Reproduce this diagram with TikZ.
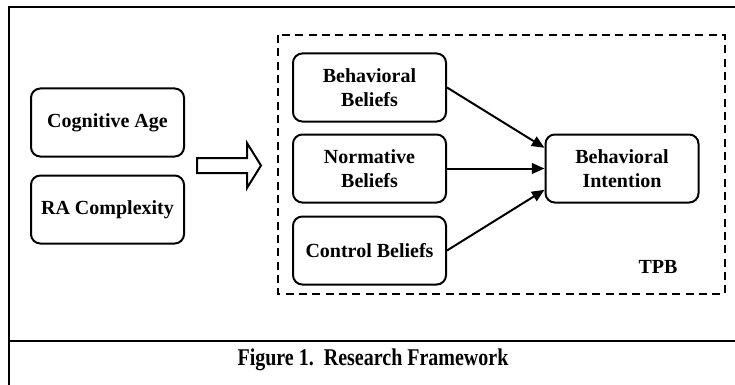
\documentclass[tikz,border=0pt]{standalone}
\usepackage{fontspec}
\usepackage{graphicx}
\setmainfont{Liberation Serif}
\usetikzlibrary{arrows.meta}
\begin{document}
\begin{tikzpicture}[x=0.75pt,y=-0.75pt,
  box/.style={draw, line width=1.5pt, rounded corners=7pt, align=center,
    font=\fontsize{15}{18.5}\selectfont\bfseries,
    minimum width=114.75pt, minimum height=51pt, inner sep=0pt},
  link/.style={line width=1.5pt, -{Triangle[length=9.5pt,width=8pt]}},
  frameline/.style={line width=2.2pt},
  lbl/.style={font=\fontsize{15}{18}\selectfont\bfseries, inner sep=0pt}]
\useasboundingbox (0,0) rectangle (735,385);
% outer frame
\coordinate (ftl) at (9,7);
\coordinate (ftr) at (736,7);
\coordinate (fbl) at (9,386);
\coordinate (sl) at (9,341);
\coordinate (sr) at (736,341);
\draw[frameline] (ftr) -- (ftl) -- (fbl);
\draw[frameline] (sl) -- (sr);
% dashed TPB box
\draw[line width=1.5pt, dash pattern=on 6pt off 4pt] (278,35) rectangle (725,294);
% left boxes
\node[box] (ca) at (107.5,122.5) {Cognitive Age};
\node[box] (ra) at (107.5,209.5) {RA Complexity};
% hollow arrow
\draw[line width=1.5pt, line join=miter] (197,158) -- (247,158) -- (247,143) -- (261,165.5)
  -- (247,188) -- (247,173) -- (197,173) -- cycle;
% TPB boxes
\node[box] (bb) at (369.5,87.5) {Behavioral\\Beliefs};
\node[box] (nb) at (369.5,168.5) {Normative\\Beliefs};
\node[box] (cb) at (369.5,250.5) {Control Beliefs};
\node[box] (bi) at (622,168.5) {Behavioral\\Intention};
\node[lbl] (tpb) at (658,267) {TPB};
% arrows
\draw[link] (bb.east) -- ([yshift=15.5pt]bi.west);
\draw[link] (nb.east) -- (bi.west);
\draw[link] (cb.east) -- ([yshift=-16pt]bi.west);
% caption
\node[font=\fontsize{15}{18}\selectfont\bfseries, inner sep=0pt, anchor=base] (cap) at (373,365) {\scalebox{1}[1.2]{Figure 1.\ \ Research Framework}};
\end{tikzpicture}
\end{document}
